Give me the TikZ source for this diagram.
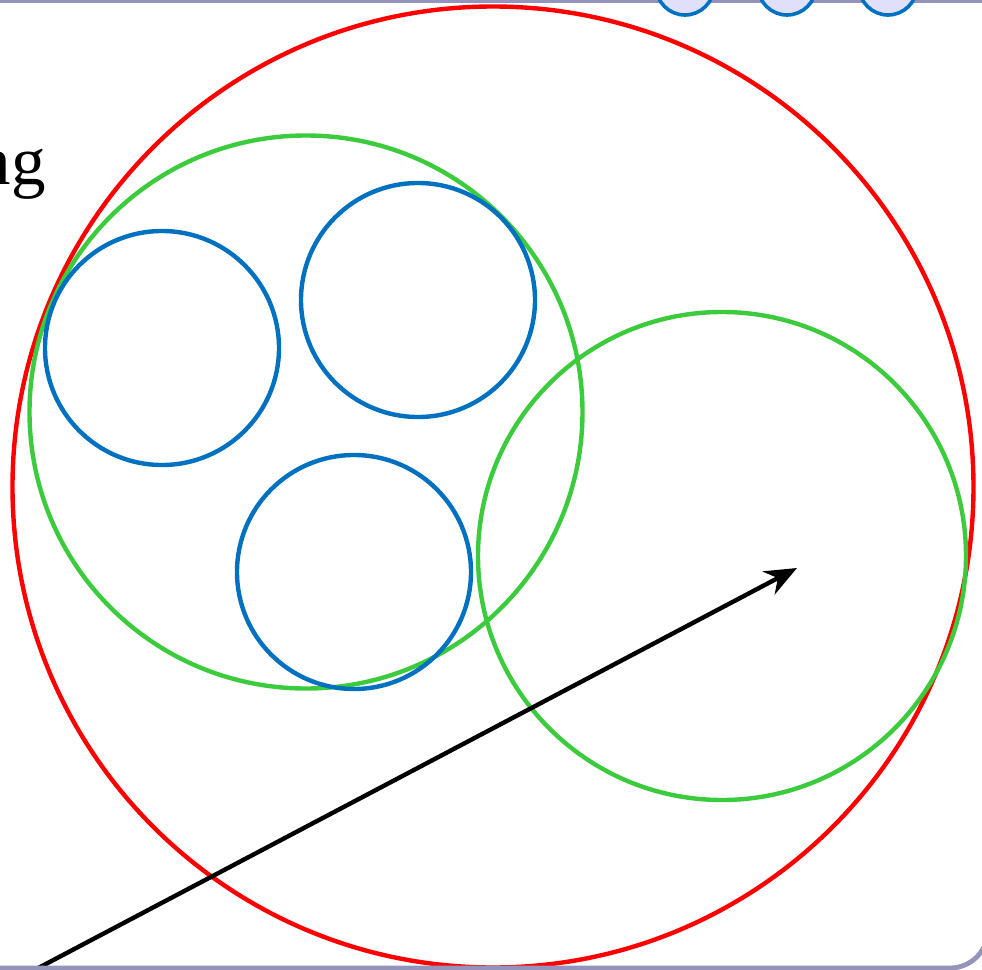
\documentclass[tikz,border=0pt]{standalone}
\usepackage{fontspec}
\setmainfont{Liberation Serif}
\usetikzlibrary{arrows.meta,positioning}
\definecolor{setred}{HTML}{FF0000}
\definecolor{setgreen}{HTML}{3CCB3C}
\definecolor{setblue}{HTML}{0070C0}
\definecolor{framegray}{HTML}{9393BB}
\definecolor{dotfill}{HTML}{E0E0FA}
\tikzset{ring/.style={circle,draw,line width=2.2pt,inner sep=0pt,outer sep=0pt},big/.style={ring,draw=setred,minimum size=480.5pt},grp/.style={ring,draw=setgreen},item/.style={ring,draw=setblue,minimum size=117pt},dot/.style={ring,draw=setblue,fill=dotfill,line width=1.8pt,minimum size=29pt},frm/.style={draw=framegray,line width=2.4pt},vec/.style={-{Stealth[length=16pt,width=13pt]},line width=2.2pt}}
\begin{document}
\begin{tikzpicture}[x=0.5pt,y=-0.5pt]
\useasboundingbox (0,0) rectangle (982,970);
\clip (0,0) rectangle (982,970);
\fill[white] (0,0) rectangle (982,970);
\node[anchor=base east,font=\fontsize{34.5}{40}\selectfont,inner sep=0pt] (word) at (46,184) {ng};
\node[big] (outer) at (493,487) {};
\node[grp,minimum size=276.5pt] (groupA) at (306,412) {};
\node[grp,minimum size=244pt] (groupB) at (722,556) {};
\node[item] (itemA) at (162,348) {};
\node[item] (itemB) at (418,300) {};
\node[item] (itemC) at (354,572) {};
\coordinate (start) at (25,975);
\coordinate (tip) at (797,568);
\draw[vec] (start) -- (tip);
\draw[frm] (0,1) -- (982,1);
\draw[frm,rounded corners=19pt] (988,-20) |- (-20,968);
\foreach \x/\n in {685/1,787/2,888/3}{\node[dot] (dot\n) at (\x,-14) {};}
\end{tikzpicture}
\end{document}
